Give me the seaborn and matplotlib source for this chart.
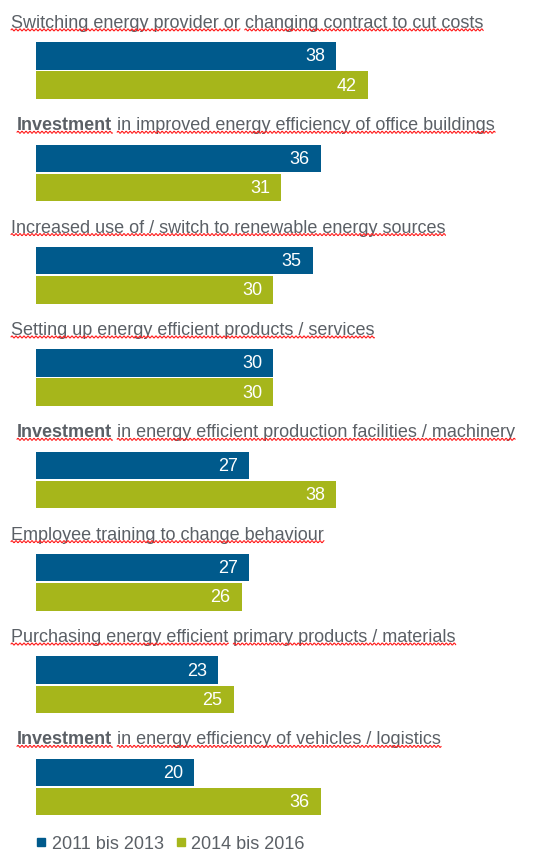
import numpy as np
import pandas as pd
import seaborn as sns
import matplotlib
matplotlib.use("Agg")
import matplotlib.pyplot as plt
from matplotlib.lines import Line2D
from matplotlib.transforms import IdentityTransform, blended_transform_factory

# ---- data -------------------------------------------------------------
measures = [
    "Switching energy provider or changing contract to cut costs",
    "Investment in improved energy efficiency of office buildings",
    "Increased use of / switch to renewable energy sources",
    "Setting up energy efficient products / services",
    "Investment in energy efficient production facilities / machinery",
    "Employee training to change behaviour",
    "Purchasing energy efficient primary products / materials",
    "Investment in energy efficiency of vehicles / logistics",
]
# label pieces: (text, bold)
label_parts = [
    [("Switching energy provider or", False), ("changing contract to cut costs", False)],
    [("Investment", True), ("in improved energy efficiency of office buildings", False)],
    [("Increased use of / switch to renewable energy sources", False)],
    [("Setting up energy efficient products / services", False)],
    [("Investment", True), ("in energy efficient production facilities / machinery", False)],
    [("Employee training to change behaviour", False)],
    [("Purchasing energy efficient", False), ("primary products / materials", False)],
    [("Investment", True), ("in energy efficiency of vehicles / logistics", False)],
]
periods = ["2011 bis 2013", "2014 bis 2016"]
share_2011_2013 = [38, 36, 35, 30, 27, 27, 23, 20]
share_2014_2016 = [42, 31, 30, 30, 38, 26, 25, 36]

BLUE = "#005A8C"
GREEN = "#A6B61B"
GREY = "#5B6066"

df = pd.DataFrame({
    "measure": measures * 2,
    "period": [periods[0]] * len(measures) + [periods[1]] * len(measures),
    "share": share_2011_2013 + share_2014_2016,
})

sns.set_theme(style="white")
plt.rcParams["font.family"] = ["Liberation Sans", "DejaVu Sans"]

W, H, DPI = 538, 853, 100
fig = plt.figure(figsize=(W / DPI, H / DPI), dpi=DPI)
ax = fig.add_axes([36 / W, 0, (W - 36) / W, 1])

sns.barplot(
    data=df, y="measure", x="share", hue="period", order=measures,
    hue_order=periods, palette=[BLUE, GREEN], saturation=1, orient="h",
    width=0.57, gap=0.06, linewidth=0, legend=False, ax=ax,
)

ax.set_xlim(0, 63.5)
ax.set_ylim(7.635, -0.6985)
ax.set_axis_off()

# values inside the bar ends
for cont in ax.containers:
    for bar, val in zip(cont.patches, cont.datavalues):
        ax.annotate(
            f"{val:.0f}", xy=(val, bar.get_y() + bar.get_height() / 2),
            xytext=(-8, 0), textcoords="offset points",
            ha="right", va="center", color="white", fontsize=13,
        )

# category labels above each pair of bars, with wavy red underlines
renderer = fig.canvas.get_renderer()
ytrans = blended_transform_factory(IdentityTransform(), ax.transData)
space_px = 5
for i, parts in enumerate(label_parts):
    x = 17 if parts[0][1] else 11
    for text, bold in parts:
        t = ax.text(
            x, i - 0.47, text, transform=ytrans, ha="left", va="center",
            fontsize=13, color=GREY,
            fontweight="bold" if bold else "normal",
        )
        bb = t.get_window_extent(renderer=renderer)
        base = bb.y0 + 1.0
        xs = np.arange(bb.x0, bb.x1 + 0.5, 0.5)
        ys = base + 1.0 * np.sin(2 * np.pi * (xs - bb.x0) / 4.0)
        fig.add_artist(Line2D(xs, ys, transform=IdentityTransform(),
                              color="#FF1A1A", lw=0.8))
        x = bb.x1 + space_px

# legend
handles = [
    Line2D([], [], marker="s", ls="none", color=BLUE, markersize=5.5),
    Line2D([], [], marker="s", ls="none", color=GREEN, markersize=5.5),
]
fig.legend(
    handles, periods, loc="center left",
    bbox_to_anchor=(36 / W, 8 / H), bbox_transform=fig.transFigure,
    ncol=2, frameon=False, fontsize=13, labelcolor=GREY,
    handlelength=0.6, handletextpad=0.3, columnspacing=0.6, borderpad=0,
    borderaxespad=0,
)

fig.savefig("out.png", dpi=DPI)
